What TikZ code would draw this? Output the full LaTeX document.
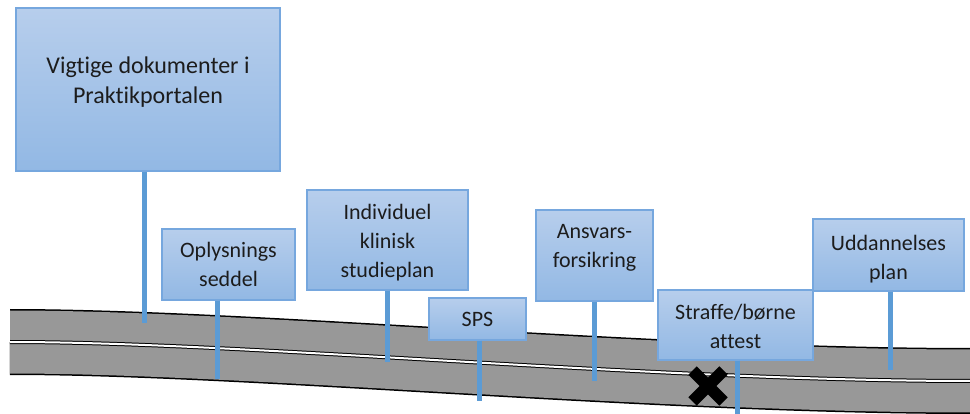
\documentclass[tikz,border=0pt]{standalone}
\usepackage{fontspec}
\setmainfont{Carlito}[Ligatures=NoCommon]
\usepackage{xcolor}
\usepackage{tikz}

\definecolor{boxtop}{RGB}{183,206,236}
\definecolor{boxbot}{RGB}{146,184,228}
\definecolor{boxline}{RGB}{118,167,222}
\definecolor{stemblue}{RGB}{91,155,213}
\definecolor{roadgray}{RGB}{152,152,152}
\definecolor{txtgray}{RGB}{28,28,28}

\tikzset{
  box/.style={rectangle, draw=boxline, line width=1.2pt, top color=boxtop, bottom color=boxbot, inner sep=0pt},
  lbl/.style={inner sep=0pt, align=center, text=txtgray, font=\fontsize{22}{29}\selectfont},
  biglbl/.style={lbl, font=\fontsize{24}{30}\selectfont},
  stem/.style={draw=stemblue, line width=5pt},
  road/.style={draw=black, line width=66pt,
    postaction={draw=roadgray, line width=63pt},
    postaction={draw=black, line width=4pt},
    postaction={draw=white, line width=2pt}},
  cross/.style={draw=black, line width=12pt}
}

\begin{document}
\begin{tikzpicture}[x=1pt, y=-1pt]
            \useasboundingbox (0,0) rectangle (970,414);

            % the road
            \coordinate (r0) at (10,342);
            \coordinate (r1) at (972,381);
            \draw[road] (r0) .. controls (250,342) and (650,381) .. (r1);

            % the cross on the road
            \coordinate (x0) at (708,386);
            \draw[cross] ([shift={(-15.5,-15.5)}]x0) -- ([shift={(15.5,15.5)}]x0);
            \draw[cross] ([shift={(-15.5,15.5)}]x0) -- ([shift={(15.5,-15.5)}]x0);

            % signs
            \node[box, minimum width=264, minimum height=163] (b1) at (148,89.5) {};
            \node[box, minimum width=133, minimum height=71] (b2) at (228.5,264.5) {};
            \node[box, minimum width=161, minimum height=100] (b3) at (387.5,240) {};
            \node[box, minimum width=97, minimum height=42] (b4) at (477.5,319) {};
            \node[box, minimum width=117, minimum height=91] (b5) at (594.5,255.5) {};
            \node[box, minimum width=155, minimum height=70] (b6) at (735.5,325) {};
            \node[box, minimum width=151, minimum height=72] (b7) at (888.5,255) {};

            \node[biglbl] (t1) at (148,82.5) {Vigtige dokumenter i\\Praktikportalen};
            \node[lbl] (t2) at (228.5,264.5) {Oplysnings\\seddel};
            \node[lbl] (t3) at (387.5,242.5) {Individuel\\klinisk\\studieplan};
            \node[lbl] (t4) at (477.5,319.5) {SPS};
            \node[lbl] (t5) at (594.5,247.5) {Ansvars-\\forsikring};
            \node[lbl] (t6) at (735.5,326) {Straffe/børne\\attest};
            \node[lbl] (t7) at (888.5,259) {Uddannelses\\plan};

            % posts down to the road
            \coordinate (e1) at (144,323);
            \coordinate (e2) at (217,379);
            \coordinate (e3) at (387,362);
            \coordinate (e4) at (479,401);
            \coordinate (e5) at (594,381);
            \coordinate (e6) at (737,420);
            \coordinate (e7) at (890,370);

            \draw[stem] (e1 |- b1.south) -- (e1); % b1
            \draw[stem] (e2 |- b2.south) -- (e2); % b2
            \draw[stem] (e3 |- b3.south) -- (e3); % b3
            \draw[stem] (e4 |- b4.south) -- (e4); % b4
            \draw[stem] (e5 |- b5.south) -- (e5); % b5
            \draw[stem] (e6 |- b6.south) -- (e6); % b6
            \draw[stem] (e7 |- b7.south) -- (e7); % b7
        \end{tikzpicture}
\end{document}
